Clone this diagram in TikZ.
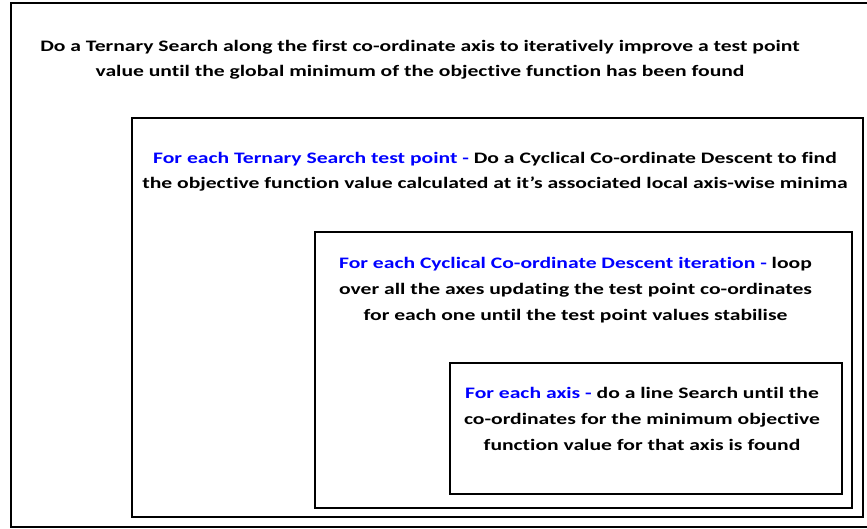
\documentclass[tikz,border=0pt]{standalone}
\usepackage{fontspec}
\setmainfont[Ligatures=NoCommon,FakeStretch=1.35]{Carlito}
\newcommand{\lead}[1]{\textcolor{blue}{#1}}
\tikzset{
  box/.style={draw=black,line width=1.6pt},
  say/.style={align=center,inner sep=0pt,anchor=base,
    font=\bfseries\fontsize{16}{25.8}\selectfont}
}
\begin{document}
\begin{tikzpicture}[x=1pt,y=-1pt]
\useasboundingbox (0,0) rectangle (867,529);
\draw[box] (11,3) rectangle (870,527);
\draw[box] (132,118) rectangle (863,517);
\draw[box] (315,232) rectangle (852,508);
\draw[box] (450,363) rectangle (842,494);

\node[say] (ternary) at (420,77) {Do a Ternary Search along the first co-ordinate axis to iteratively improve a test point\\
value until the global minimum of the objective function has been found};
\node[say] (descent) at (495,189) {\lead{For each Ternary Search test point -} Do a Cyclical Co-ordinate Descent to find\\
the objective function value calculated at it's associated local axis-wise minima};
\node[say] (cycle) at (575.5,320) {\lead{For each Cyclical Co-ordinate Descent iteration -} loop\\
over all the axes updating the test point co-ordinates\\
for each one until the test point values stabilise};
\node[say] (axis) at (642,450.5) {\lead{For each axis -} do a line Search until the\\
co-ordinates for the minimum objective\\
function value for that axis is found};
\end{tikzpicture}
\end{document}
